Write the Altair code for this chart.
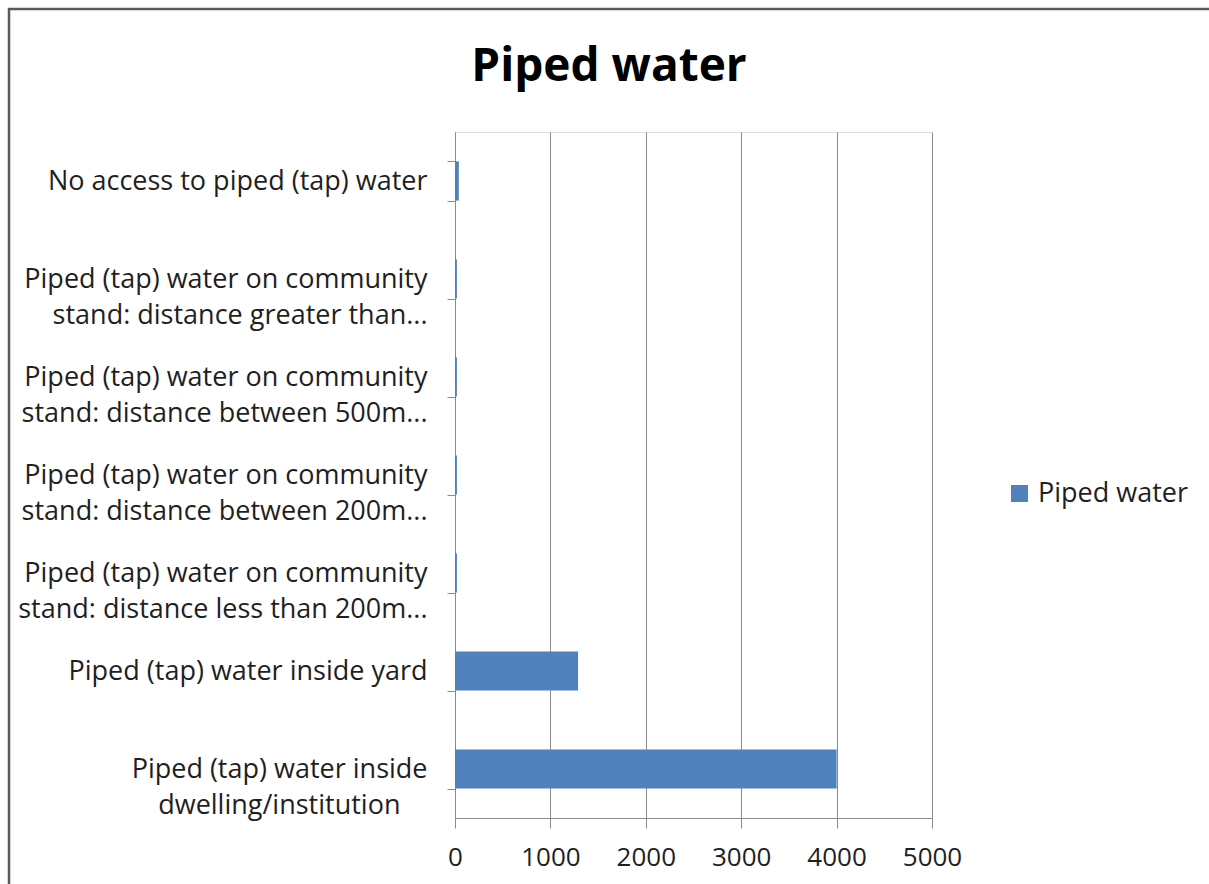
import altair as alt
import pandas as pd

# Categories, top to bottom, with "|" marking the line break in the axis label
categories = [
    "No access to piped (tap) water",
    "Piped (tap) water on community|stand: distance greater than...",
    "Piped (tap) water on community|stand: distance between 500m...",
    "Piped (tap) water on community|stand: distance between 200m...",
    "Piped (tap) water on community|stand: distance less than 200m...",
    "Piped (tap) water inside yard",
    "Piped (tap) water inside|dwelling/institution\u00a0\u2800",
]
values = [40, 20, 20, 20, 20, 1290, 4000]
series_name = "Piped water"
chart_title = "Piped water"
x_ticks = [0, 1000, 2000, 3000, 4000, 5000]

df = pd.DataFrame({"category": categories, "value": values, "series": series_name})

FONT = "Open Sans"
TEXT = "#1f1f1f"
GRID = "#8a8a8a"

bars = alt.Chart(df).mark_bar(color="#4f81bd").encode(
    y=alt.Y(
        "category:N",
        sort=categories,
        title=None,
        scale=alt.Scale(paddingInner=0.6, paddingOuter=0.3),
        axis=alt.Axis(
            tickBand="extent",
            tickSize=8,
            tickColor=GRID,
            domainColor=GRID,
            labelPadding=20,
            labelFont=FONT,
            labelFontSize=27,
            labelColor=TEXT,
            labelLineHeight=36,
            labelLimit=500,
            labelExpr="split(datum.label, '|')",
            grid=False,
        ),
    ),
    x=alt.X(
        "value:Q",
        title=None,
        scale=alt.Scale(domain=[0, 5000], nice=False),
        axis=alt.Axis(
            values=x_ticks,
            format="d",
            labelFlush=False,
            tickSize=10,
            tickColor=GRID,
            domainColor=GRID,
            gridColor=GRID,
            labelPadding=16,
            labelFont=FONT,
            labelFontSize=26,
            labelColor=TEXT,
        ),
    ),
    color=alt.Color(
        "series:N",
        scale=alt.Scale(domain=[series_name], range=["#4f81bd"]),
        legend=alt.Legend(
            title=None,
            orient="none",
            legendX=551,
            legendY=348,
            symbolType="square",
            symbolSize=290,
            symbolStrokeWidth=0,
            labelFont=FONT,
            labelFontSize=27,
            labelColor=TEXT,
            labelOffset=5,
        ),
    ),
)

# Chart heading, drawn as text above the plot area
heading = alt.Chart(pd.DataFrame({"t": [chart_title]})).mark_text(
    font=FONT, fontSize=46, fontWeight="bold", color="#000000",
    align="center", baseline="alphabetic",
).encode(text="t:N", x=alt.value(154), y=alt.value(-51))

# Outer frame of the chart
frame = alt.Chart(df.head(1)).mark_rect(
    fill=None, stroke="#5a5a5a", strokeWidth=2.5
).encode(
    x=alt.value(-446), x2=alt.value(780),
    y=alt.value(-123), y2=alt.value(790),
)

chart = alt.layer(frame, bars, heading).properties(
    width=477,
    height=686,
    autosize=alt.AutoSizeParams(type="none"),
    padding={"left": 455, "top": 132, "right": 277, "bottom": 66},
).configure_view(stroke=None).configure(background="white")

chart.save("out.html", embed_options={"renderer": "svg", "actions": False})
